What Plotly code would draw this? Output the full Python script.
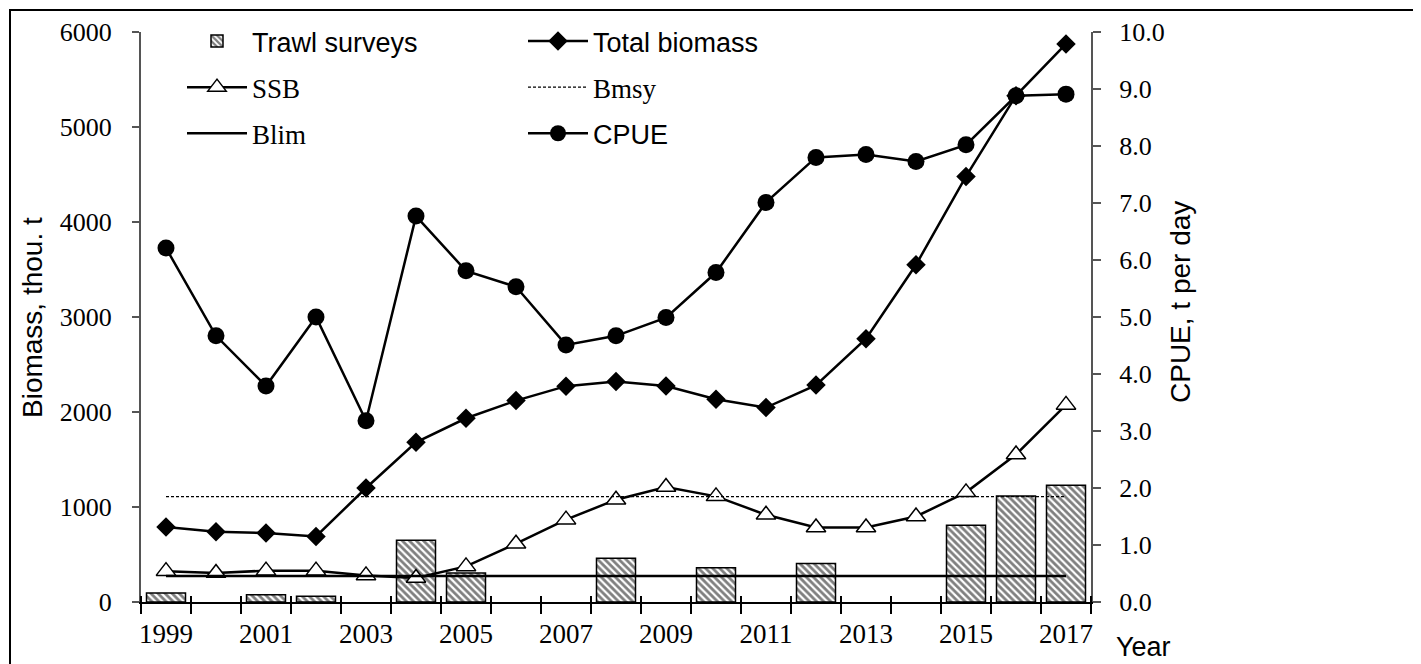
import plotly.graph_objects as go

years = list(range(1999, 2018))
total_biomass = [789, 740, 726, 690, 1200, 1681, 1934, 2120, 2272, 2320, 2274, 2135, 2047, 2283, 2772, 3550, 4480, 5330, 5874]
ssb = [325, 305, 330, 330, 280, 253, 375, 614, 867, 1077, 1210, 1112, 918, 784, 784, 900, 1154, 1553, 2075]
cpue = [6.21, 4.67, 3.79, 5.00, 3.18, 6.77, 5.81, 5.53, 4.51, 4.67, 4.99, 5.78, 7.01, 7.80, 7.85, 7.73, 8.02, 8.88, 8.91]
survey_years = [1999, 2001, 2002, 2004, 2005, 2008, 2010, 2012, 2015, 2016, 2017]
survey_biomass = [95, 77, 60, 649, 305, 460, 360, 406, 808, 1115, 1228]
BMSY = 1110
BLIM = 275
ref_years = [1999, 2017]
label_years = list(range(1999, 2018, 2))
left_ticks = [0, 1000, 2000, 3000, 4000, 5000, 6000]
right_ticks = [0, 1, 2, 3, 4, 5, 6, 7, 8, 9, 10]

SANS = "Liberation Sans"
SERIF = "Liberation Serif"

def serif(t):
    return '<span style="font-family:%s">%s</span>' % (SERIF, t)

fig = go.Figure()
fig.add_trace(go.Bar(
    x=survey_years, y=survey_biomass, name="Trawl surveys", width=0.78,
    legend="legend", legendgroup="a",
    marker=dict(color="white", line=dict(color="black", width=1.5),
                pattern=dict(shape="\\", fgcolor="black", bgcolor="white", size=5, solidity=0.55)),
))
fig.add_trace(go.Scatter(
    x=years, y=total_biomass, name="Total biomass", mode="lines+markers",
    legend="legend2", legendgroup="b",
    line=dict(color="black", width=2.5),
    marker=dict(symbol="diamond", size=15, color="black"),
))
fig.add_trace(go.Scatter(
    x=years, y=ssb, name=serif("SSB"), mode="lines+markers",
    legend="legend", legendgroup="c",
    line=dict(color="black", width=2.5),
    marker=dict(symbol="triangle-up", size=17, color="white", line=dict(color="black", width=1.5)),
))
fig.add_trace(go.Scatter(
    x=ref_years, y=[BMSY, BMSY], name=serif("Bmsy"), mode="lines", xaxis="x2",
    legend="legend2", legendgroup="d",
    line=dict(color="black", width=1.2, dash="3px,2px"),
))
fig.add_trace(go.Scatter(
    x=ref_years, y=[BLIM, BLIM], name=serif("Blim"), mode="lines",
    legend="legend", legendgroup="e",
    line=dict(color="black", width=2.5),
))
fig.add_trace(go.Scatter(
    x=years, y=cpue, name="CPUE", mode="lines+markers", yaxis="y2",
    legend="legend2", legendgroup="f",
    line=dict(color="black", width=2.5),
    marker=dict(symbol="circle", size=17, color="black"),
))

# page is offset by the 8px body margin
W, H = 1413, 656
L, R, T, B = 133, 330, 24, 62
pw, ph = W - L - R, H - T - B

def px(x):  # page x -> paper
    return (x - 8 - L) / pw

def py(y):  # page y -> paper
    return (H - B - (y - 8)) / ph

yfont = dict(family=SERIF, size=26, color="black")
xfont = dict(family=SERIF, size=27, color="black")
legfont = dict(family=SANS, size=27, color="black")
fig.update_layout(
    width=W, height=H, margin=dict(l=L, r=R, t=T, b=B, autoexpand=False),
    paper_bgcolor="white", plot_bgcolor="white",
    font=dict(family=SANS, size=27, color="black"),
    showlegend=True,
    legend=dict(orientation="v", x=px(182), y=py(17), xanchor="left", yanchor="top",
                bgcolor="rgba(0,0,0,0)", font=legfont, itemwidth=60, tracegroupgap=8),
    legend2=dict(orientation="v", x=px(523), y=py(17), xanchor="left", yanchor="top",
                 bgcolor="rgba(0,0,0,0)", font=legfont, itemwidth=60, tracegroupgap=8),
    bargap=0.2,
    xaxis=dict(range=[1998.5, 2017.5], tickmode="array", tickvals=label_years,
               ticks="outside", ticklen=0, showline=True, linecolor="black", linewidth=2,
               tickfont=xfont, ticklabelstandoff=7, showgrid=False, zeroline=False,
               minor=dict(tickmode="linear", tick0=1998.5, dtick=1, ticks="outside",
                          ticklen=10, tickwidth=2, tickcolor="black", showgrid=False)),
    xaxis2=dict(range=[1998.5, 2017.5], overlaying="x", anchor="y", matches="x",
                showticklabels=False, ticks="", showline=False, showgrid=False, zeroline=False,
                tickvals=label_years,
                minor=dict(tickmode="linear", tick0=1998.5, dtick=1, ticks="inside",
                           ticklen=6, tickwidth=2, tickcolor="black", showgrid=False)),
    yaxis=dict(range=[0, 6000], tickmode="array", tickvals=left_ticks, ticks="outside",
               ticklen=7, tickwidth=1.5, tickcolor="#555", showline=True, linecolor="#555",
               linewidth=2, tickfont=yfont, ticklabelstandoff=15, showgrid=False, zeroline=False),
    yaxis2=dict(range=[0, 10], overlaying="y", side="right", tickmode="array", tickvals=right_ticks,
                tickformat=".1f", ticks="outside", ticklen=8, tickwidth=1.5, tickcolor="#555",
                showline=True, linecolor="#555", linewidth=2, tickfont=yfont,
                ticklabelstandoff=13, showgrid=False, zeroline=False),
    annotations=[
        dict(text="Biomass, thou. t", xref="paper", yref="paper", x=px(32), y=py(318),
             xanchor="center", yanchor="middle",
             textangle=-90, showarrow=False, font=dict(family=SANS, size=28, color="black")),
        dict(text="CPUE, t per day", xref="paper", yref="paper", x=px(1180), y=py(302),
             xanchor="center", yanchor="middle",
             textangle=-90, showarrow=False, font=dict(family=SANS, size=28, color="black")),
        dict(text="Year", xref="paper", yref="paper", x=px(1143), y=py(647),
             xanchor="center", yanchor="middle",
             showarrow=False, font=dict(family=SANS, size=27, color="black")),
    ],
    shapes=[
        dict(type="rect", xref="paper", yref="paper", x0=px(10), x1=px(1417), y0=py(700), y1=py(10),
             line=dict(color="black", width=2), fillcolor="rgba(0,0,0,0)", layer="below"),
    ],
)

fig.write_html("out.html")
